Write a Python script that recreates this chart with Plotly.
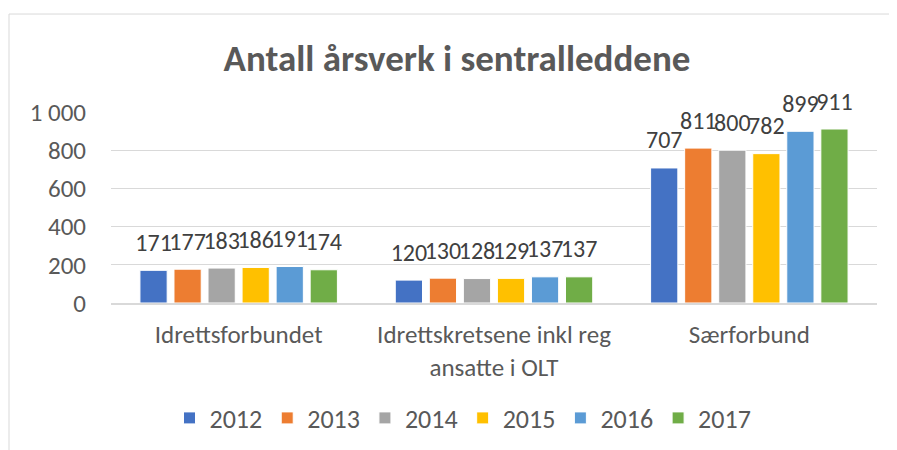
import plotly.graph_objects as go

categories = ["Idrettsforbundet", "Idrettskretsene inkl reg<br>ansatte i OLT", "Særforbund"]
years = ["2012", "2013", "2014", "2015", "2016", "2017"]
values = {
    "2012": [171, 120, 707],
    "2013": [177, 130, 811],
    "2014": [183, 128, 800],
    "2015": [186, 129, 782],
    "2016": [191, 137, 899],
    "2017": [174, 137, 911],
}
colors = ["#4472C4", "#ED7D31", "#A5A5A5", "#FFC000", "#5B9BD5", "#70AD47"]
tick_vals = [0, 200, 400, 600, 800, 1000]
tick_text = ["0", "200", "400", "600", "800", "1 000"]

FONT = "Carlito, Calibri, Lato, sans-serif"
W, H = 897, 450
OFF = 8  # page body margin offset
ml, mr, mt, mb = 111 - OFF, 20 + OFF, 112 - OFF, 145 + OFF

fig = go.Figure()
for y, c in zip(years, colors):
    fig.add_trace(go.Bar(
        name=y, x=categories, y=values[y], offsetgroup=y,
        marker=dict(color=c, line=dict(color="white", width=1)),
    ))
for y in years:
    fig.add_trace(go.Scatter(
        x=categories, y=values[y], offsetgroup=y, mode="markers+text",
        marker=dict(size=20, opacity=0),
        text=[str(v) for v in values[y]], textposition="top center",
        textfont=dict(family=FONT, size=24, color="#404040"),
        cliponaxis=False, showlegend=False, hoverinfo="skip",
    ))

pw = W - ml - mr
ph = H - mt - mb
def px_x(p):
    return (p - OFF - ml) / pw
def px_y(p):
    return (H - mb - (p - OFF)) / ph

fig.update_layout(
    width=W, height=H,
    margin=dict(l=ml, r=mr, t=mt, b=mb),
    paper_bgcolor="white", plot_bgcolor="white",
    barmode="group", bargap=0.2, bargroupgap=0.2,
    scattermode="group", scattergap=0.2,
    title=dict(text="<b>Antall årsverk i sentralleddene</b>",
               font=dict(family=FONT, size=37, color="#595959"),
               x=(457 - OFF) / W, xanchor="center", xref="container",
               y=1 - (58 - OFF) / H, yanchor="middle", yref="container"),
    font=dict(family=FONT, color="#595959"),
    legend=dict(orientation="h", xref="container", yref="container",
                x=(463 - OFF) / W, xanchor="center", y=1 - (418 - OFF) / H, yanchor="middle",
                font=dict(family=FONT, size=26, color="#595959"),
                itemwidth=30, traceorder="normal"),
    yaxis=dict(range=[0, 1000], tickvals=tick_vals, ticktext=tick_text,
               showgrid=True, gridcolor="#D9D9D9", gridwidth=1,
               zeroline=False, showline=False, ticks="",
               tickfont=dict(family=FONT, size=25, color="#595959"),
               ticklabelstandoff=24),
    xaxis=dict(showline=True, linecolor="#D9D9D9", linewidth=2, ticks="",
               tickfont=dict(family=FONT, size=25, color="#595959"),
               ticklabelstandoff=8),
    showlegend=True,
    shapes=[
        dict(type="line", xref="paper", yref="paper",
             x0=px_x(9), x1=px_x(W + 20), y0=px_y(13), y1=px_y(13),
             line=dict(color="#D9D9D9", width=1)),
        dict(type="line", xref="paper", yref="paper",
             x0=px_x(9), x1=px_x(9), y0=px_y(13), y1=px_y(H + 20),
             line=dict(color="#D9D9D9", width=1)),
    ],
)

fig.write_html("out.html")
